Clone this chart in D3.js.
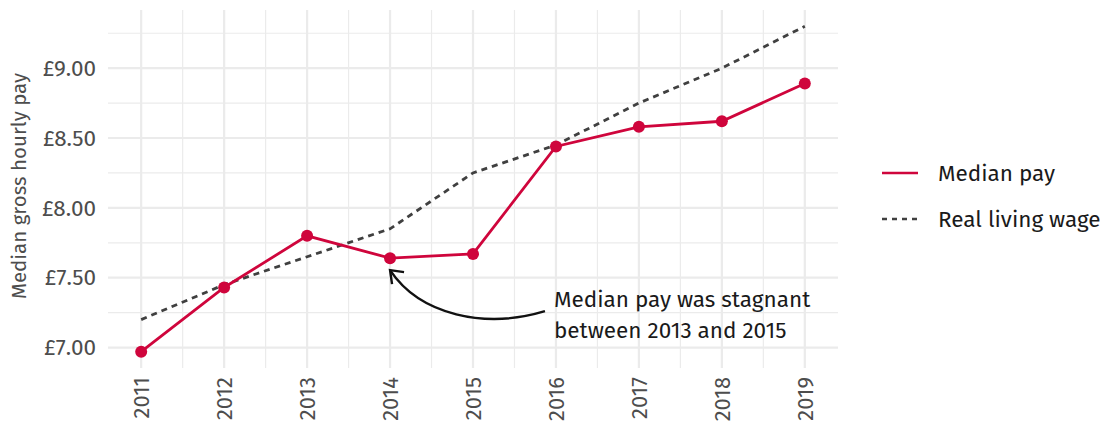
<!DOCTYPE html>
<html lang="en">
<head>
<meta charset="utf-8">
<script src="https://d3js.org/d3.v7.min.js"></script>
<style>
  body { margin: 0; background: #fff; }
  text { font-family: "Fira Sans", Roboto, "Noto Sans", sans-serif; }
</style>
</head>
<body>
<script>
    // values
    const years = [2011, 2012, 2013, 2014, 2015, 2016, 2017, 2018, 2019];
    const medianPay = [6.97, 7.43, 7.80, 7.64, 7.67, 8.44, 8.58, 8.62, 8.89];
    const livingWage = [7.20, 7.45, 7.65, 7.85, 8.25, 8.45, 8.75, 9.00, 9.30];
    const yTicks = [7.00, 7.50, 8.00, 8.50, 9.00];
    const legendLabels = ["Median pay", "Real living wage"];
    const noteLines = ["Median pay was stagnant", "between 2013 and 2015"];

    const width = 1110, height = 429;
    const margin = { top: 10, right: 272, bottom: 61, left: 108 };
    const w = width - margin.left - margin.right;
    const h = height - margin.top - margin.bottom;

    const red = "#cf053c";
    const grey = "#404040";

    const svg = d3.select("body").append("svg")
        .attr("width", width)
        .attr("height", height);

    const g = svg.append("g")
        .attr("transform", "translate(" + margin.left + "," + margin.top + ")");

    // ggplot style 5% padding
    const yMin = d3.min(medianPay.concat(livingWage)), yMax = d3.max(medianPay.concat(livingWage));
    const yPad = (yMax - yMin) * 0.05;
    const xPad = (d3.max(years) - d3.min(years)) * 0.05;

    const x = d3.scaleLinear()
        .domain([d3.min(years) - xPad, d3.max(years) + xPad])
        .range([0, w]);
    const y = d3.scaleLinear()
        .domain([yMin - yPad, yMax + yPad])
        .range([h, 0]);

    // minor grid
    const minorX = years.slice(1).map(d => d - 0.5);
    const minorY = yTicks.map(d => d + 0.25).filter(d => d < y.domain()[1]);
    g.selectAll(".minx").data(minorX).enter().append("line")
        .attr("x1", d => x(d)).attr("x2", d => x(d))
        .attr("y1", 0).attr("y2", h)
        .attr("stroke", "#ebebeb").attr("stroke-width", 1.2);
    g.selectAll(".miny").data(minorY).enter().append("line")
        .attr("y1", d => y(d)).attr("y2", d => y(d))
        .attr("x1", 0).attr("x2", w)
        .attr("stroke", "#ebebeb").attr("stroke-width", 1.2);

    // major grid
    g.selectAll(".majx").data(years).enter().append("line")
        .attr("x1", d => x(d)).attr("x2", d => x(d))
        .attr("y1", 0).attr("y2", h)
        .attr("stroke", "#ebebeb").attr("stroke-width", 2.2);
    g.selectAll(".majy").data(yTicks).enter().append("line")
        .attr("y1", d => y(d)).attr("y2", d => y(d))
        .attr("x1", 0).attr("x2", w)
        .attr("stroke", "#ebebeb").attr("stroke-width", 2.2);

    // axes
    const yAxis = d3.axisLeft(y)
        .tickValues(yTicks)
        .tickSize(0)
        .tickPadding(12)
        .tickFormat(d => "£" + d.toFixed(2));
    const yG = g.append("g").call(yAxis);
    yG.select(".domain").remove();
    yG.selectAll("text")
        .attr("fill", "#4d4d4d")
        .style("font-size", "22.5px");

    const xAxis = d3.axisBottom(x)
        .tickValues(years)
        .tickSize(0)
        .tickFormat(d3.format("d"));
    const xG = g.append("g")
        .attr("transform", "translate(0," + h + ")")
        .call(xAxis);
    xG.select(".domain").remove();
    xG.selectAll("text")
        .attr("fill", "#4d4d4d")
        .style("font-size", "22px")
        .attr("transform", "rotate(-90)")
        .attr("text-anchor", "end")
        .attr("dy", "0.35em")
        .attr("x", -9)
        .attr("y", 0);

    svg.append("text")
        .attr("transform", "translate(26," + (margin.top + h / 2 - 3) + ") rotate(-90)")
        .attr("text-anchor", "middle")
        .attr("fill", "#4d4d4d")
        .style("font-size", "20.5px")
        .text("Median gross hourly pay");

    // living wage dashed line
    const line = d3.line()
        .x((d, i) => x(years[i]))
        .y(d => y(d));

    g.append("path")
        .datum(livingWage)
        .attr("d", line)
        .attr("fill", "none")
        .attr("stroke", grey)
        .attr("stroke-width", 2.8)
        .attr("stroke-dasharray", "6,5");

    g.append("path")
        .datum(medianPay)
        .attr("d", line)
        .attr("fill", "none")
        .attr("stroke", red)
        .attr("stroke-width", 2.8);

    g.selectAll(".pt").data(medianPay).enter().append("circle")
        .attr("cx", (d, i) => x(years[i]))
        .attr("cy", d => y(d))
        .attr("r", 6)
        .attr("fill", red);

    // annotation
    const noteX = x(2016) - 2;
    const note = g.append("text")
        .attr("y", y(7.29))
        .attr("fill", "#1a1a1a")
        .style("font-size", "22.5px");
    note.selectAll("tspan").data(noteLines).enter().append("tspan")
        .attr("x", noteX)
        .attr("dy", (d, i) => i === 0 ? 0 : 31)
        .text(d => d);

    const ax = x(2014), ay = y(7.64) + 12;
    const sx = x(2016) - 11, sy = y(7.26);
    g.append("path")
        .attr("d", "M" + sx + "," + sy +
            " C" + (sx - 60) + "," + (sy + 18) + " " + (ax + 30) + "," + (sy + 4) + " " + ax + "," + ay)
        .attr("fill", "none")
        .attr("stroke", "#111")
        .attr("stroke-width", 2.4);
    // arrow head
    g.append("path")
        .attr("d", "M" + (ax + 2) + "," + (ay + 14) + " L" + ax + "," + ay + " L" + (ax + 14) + "," + (ay + 2))
        .attr("fill", "none")
        .attr("stroke", "#111")
        .attr("stroke-width", 2.4);

    // legend
    const legend = svg.append("g")
        .attr("transform", "translate(882,173)");
    const items = legend.selectAll("g").data(legendLabels).enter().append("g")
        .attr("transform", (d, i) => "translate(0," + i * 46 + ")");
    items.append("line")
        .attr("x1", 0).attr("x2", 36)
        .attr("stroke", (d, i) => i === 0 ? red : grey)
        .attr("stroke-width", 2.6)
        .attr("stroke-dasharray", (d, i) => i === 0 ? null : "5,5");
    items.append("text")
        .attr("x", 56)
        .attr("dy", "0.35em")
        .attr("fill", "#1a1a1a")
        .style("font-size", "22.5px")
        .text(d => d);
</script>
</body>
</html>
